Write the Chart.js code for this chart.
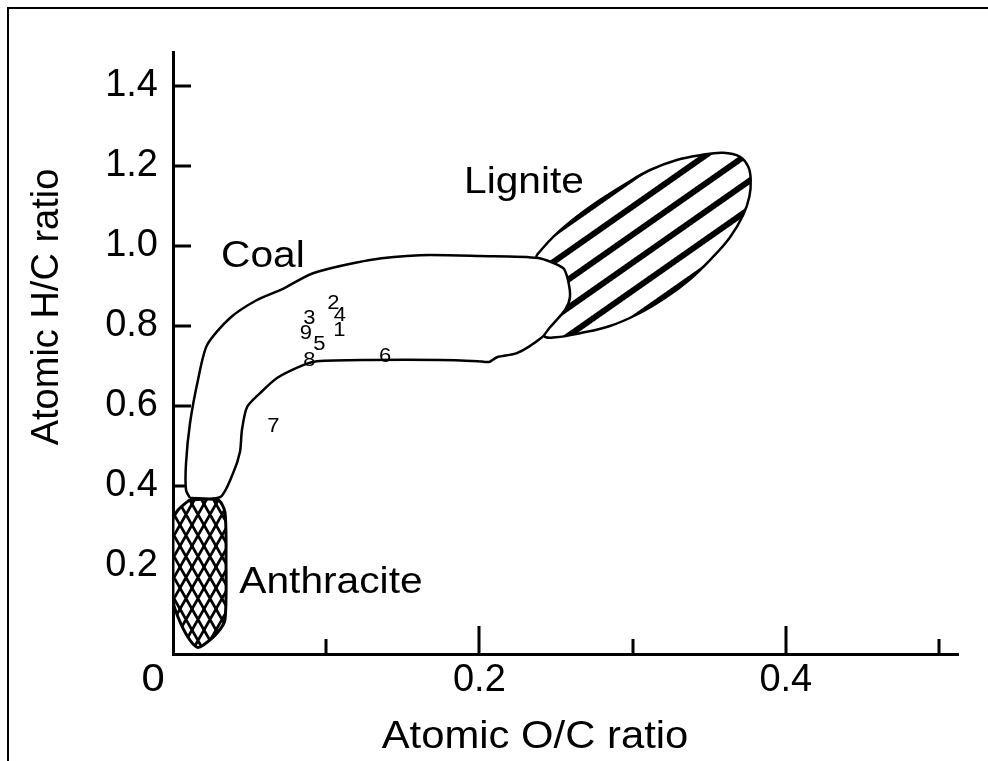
<!DOCTYPE html>
<html>
<head>
<meta charset="utf-8">
<title>Atomic H/C vs O/C ratio</title>
<script src="https://cdn.jsdelivr.net/npm/chart.js@4.4.1/dist/chart.umd.min.js"></script>
<style>
  html, body { margin: 0; padding: 0; background: #fff; }
  #wrap { width: 988px; height: 761px; position: relative; }
</style>
</head>
<body>
<div id="wrap"><canvas id="vk-chart"></canvas></div>
<script>
// tick values
var xTickValues = [0.1, 0.2, 0.3, 0.4, 0.5];
var xLabelValues = [0.2, 0.4];
var yTickValues = [0.2, 0.4, 0.6, 0.8, 1.0, 1.2, 1.4];

// coal band outline (O/C, H/C)
var coalX = [0.0111, 0.0085, 0.0085, 0.0111, 0.0163, 0.0222, 0.0372, 0.0548, 0.0718, 0.0914, 0.1286, 0.1612, 0.2004, 0.2382,
             0.2546, 0.2578, 0.2591, 0.2559, 0.2461, 0.2409, 0.2245, 0.2115, 0.2063, 0.1991, 0.1743,
             0.1286, 0.0940, 0.0849, 0.0679, 0.0568, 0.0483, 0.0450, 0.0437, 0.0392, 0.0307, 0.0111];
var coalY = [0.369, 0.389, 0.456, 0.556, 0.664, 0.751, 0.819, 0.864, 0.892, 0.931, 0.964, 0.976, 0.974, 0.969,
             0.944, 0.914, 0.871, 0.839, 0.796, 0.771, 0.731, 0.721, 0.709, 0.711, 0.714,
             0.714, 0.711, 0.701, 0.669, 0.631, 0.596, 0.539, 0.484, 0.431, 0.371, 0.369];

// lignite field outline
var ligniteX = [0.2374, 0.2482, 0.2635, 0.2787, 0.2961, 0.3114, 0.3288, 0.3440, 0.3592, 0.3701, 0.3755, 0.3771,
                0.3762, 0.3721, 0.3636, 0.3518, 0.3375, 0.3211, 0.3035, 0.2852, 0.2657, 0.2500, 0.2417,
                0.2343, 0.2374];
var ligniteY = [0.976, 1.022, 1.072, 1.114, 1.156, 1.189, 1.214, 1.226, 1.232, 1.222, 1.197, 1.164,
                1.122, 1.076, 1.021, 0.969, 0.916, 0.869, 0.829, 0.799, 0.781, 0.771, 0.776,
                0.864, 0.976];

// anthracite field outline
var anthraciteX = [0.0091, 0.0111, 0.0294, 0.0339, 0.0346, 0.0339, 0.0287, 0.0196, 0.0157, 0.0098, 0.0033, 0.0000, 0.0000, 0.0033, 0.0091];
var anthraciteY = [0.359, 0.364, 0.364, 0.334, 0.214, 0.064, 0.031, 0.001, -0.004, 0.021, 0.071, 0.114, 0.314, 0.339, 0.359];

// numbered samples
var sampleIds = ['1', '2', '3', '4', '5', '6', '7', '8', '9'];
var sampleOC = [0.1086, 0.1046, 0.0890, 0.1090, 0.0955, 0.1384, 0.0655, 0.0890, 0.0868];
var sampleHC = [0.789, 0.855, 0.818, 0.826, 0.753, 0.724, 0.547, 0.714, 0.781];

// field names
var fieldNames = ['Coal', 'Lignite', 'Anthracite'];
var fieldOC = [0.0587, 0.2291, 0.1031];
var fieldHC = [0.971, 1.156, 0.156];

var FONT = '"Liberation Sans", Arial, Helvetica, sans-serif';
var WIDEN = 1.1;  // lettering is drawn slightly wide

function toPoints(xs, ys) {
    var pts = [];
    for (var i = 0; i < xs.length; i++) {
        pts.push({ x: xs[i], y: ys[i] });
    }
    return pts;
}

// diagonal stripes for lignite
function stripePattern() {
    var c = document.createElement('canvas');
    c.width = 23; c.height = 23;
    var g = c.getContext('2d');
    g.fillStyle = '#fff';
    g.fillRect(0, 0, 23, 23);
    g.fillStyle = '#000';
    g.fillRect(0, 0, 23, 6);
    var p = g.createPattern(c, 'repeat');
    p.setTransform(new DOMMatrix().rotateSelf(-35));
    return p;
}

// diamond cross-hatch for anthracite
function crossPattern() {
    var w = 12, h = 21;
    var c = document.createElement('canvas');
    c.width = w; c.height = h;
    var g = c.getContext('2d');
    g.fillStyle = '#fff';
    g.fillRect(0, 0, w, h);
    g.strokeStyle = '#000';
    g.lineWidth = 2.8;
    for (var dx = -w; dx <= w; dx += w) {
        for (var dy = -h; dy <= h; dy += h) {
            g.beginPath();
            g.moveTo(dx, dy); g.lineTo(dx + w, dy + h);
            g.moveTo(dx, dy + h); g.lineTo(dx + w, dy);
            g.stroke();
        }
    }
    return g.createPattern(c, 'repeat');
}

var framePlugin = {
    id: 'frame',
    beforeDraw: function (chart) {
        var ctx = chart.ctx;
        ctx.save();
        ctx.fillStyle = '#fff';
        ctx.fillRect(0, 0, chart.width, chart.height);
        ctx.fillStyle = '#000';
        ctx.fillRect(7, 7, chart.width - 7, 2);
        ctx.fillRect(7, 7, 2, chart.height - 7);
        ctx.restore();
    }
};

// tick marks point inward from both axes
var tickPlugin = {
    id: 'innerTicks',
    beforeDatasetsDraw: function (chart) {
        var ctx = chart.ctx, a = chart.chartArea;
        var xs = chart.scales.x, ys = chart.scales.y;
        ctx.save();
        ctx.strokeStyle = '#000';
        ctx.lineWidth = 3;
        ctx.beginPath();
        yTickValues.forEach(function (v) {
            var py = Math.round(ys.getPixelForValue(v));
            ctx.moveTo(a.left, py);
            ctx.lineTo(a.left + 18, py);
        });
        xTickValues.forEach(function (v) {
            var px = Math.round(xs.getPixelForValue(v));
            var len = xLabelValues.indexOf(v) >= 0 ? 28 : 15;
            ctx.moveTo(px, a.bottom);
            ctx.lineTo(px, a.bottom - len);
        });
        ctx.stroke();
        ctx.restore();
    }
};

function wideText(ctx, text, x, y) {
    ctx.save();
    ctx.translate(x, y);
    ctx.scale(WIDEN, 1);
    ctx.fillText(text, 0, 0);
    ctx.restore();
}

var textPlugin = {
    id: 'texts',
    afterDraw: function (chart) {
        var ctx = chart.ctx, a = chart.chartArea;
        var xs = chart.scales.x, ys = chart.scales.y;
        ctx.save();
        ctx.fillStyle = '#000';
        ctx.textAlign = 'center';
        ctx.textBaseline = 'middle';

        // sample numbers
        var meta = chart.getDatasetMeta(3);
        ctx.font = '20px ' + FONT;
        meta.data.forEach(function (pt, i) {
            wideText(ctx, sampleIds[i], pt.x, pt.y);
        });

        // field names
        ctx.font = '37px ' + FONT;
        fieldNames.forEach(function (name, i) {
            wideText(ctx, name, xs.getPixelForValue(fieldOC[i]), ys.getPixelForValue(fieldHC[i]));
        });

        // origin and axis titles
        ctx.font = '38px ' + FONT;
        wideText(ctx, '0', a.left - 20, a.bottom + 27);
        wideText(ctx, 'Atomic O/C ratio', 535, 738);
        ctx.translate(48, 307);
        ctx.rotate(-Math.PI / 2);
        ctx.fillText('Atomic H/C ratio', 0, 0);
        ctx.restore();
    }
};

var tickFont = { family: FONT, size: 38 };

new Chart(document.getElementById('vk-chart'), {
    type: 'line',
    data: {
        datasets: [
            {
                label: 'Coal',
                data: toPoints(coalX, coalY),
                borderColor: '#000',
                borderWidth: 2.5,
                backgroundColor: '#fff',
                fill: 'shape',
                tension: 0.25,
                pointRadius: 0,
                borderJoinStyle: 'round',
                order: 1
            },
            {
                label: 'Lignite',
                data: toPoints(ligniteX, ligniteY),
                borderColor: '#000',
                borderWidth: 2.5,
                backgroundColor: stripePattern(),
                fill: 'shape',
                tension: 0.4,
                pointRadius: 0,
                order: 2
            },
            {
                label: 'Anthracite',
                data: toPoints(anthraciteX, anthraciteY),
                borderColor: '#000',
                borderWidth: 3,
                backgroundColor: crossPattern(),
                fill: 'shape',
                tension: 0.25,
                pointRadius: 0,
                borderJoinStyle: 'round',
                order: 3
            },
            {
                label: 'Samples',
                data: toPoints(sampleOC, sampleHC),
                showLine: false,
                pointRadius: 0,
                order: 0
            }
        ]
    },
    options: {
        responsive: true,
        maintainAspectRatio: false,
        animation: false,
        events: [],
        layout: { padding: { top: 52, right: 30, left: 0, bottom: 0 } },
        plugins: {
            legend: { display: false },
            tooltip: { enabled: false }
        },
        scales: {
            x: {
                type: 'linear',
                min: 0,
                max: 0.5124,
                grid: { display: false, drawTicks: false },
                border: { display: true, color: '#000', width: 3 },
                afterBuildTicks: function (scale) {
                    scale.ticks = xLabelValues.map(function (v) { return { value: v }; });
                },
                afterFit: function (scale) { scale.height = 107; },
                ticks: {
                    color: '#000',
                    font: tickFont,
                    padding: 4,
                    maxRotation: 0,
                    autoSkip: false,
                    callback: function (value) { return Number(value).toFixed(1); }
                }
            },
            y: {
                type: 'linear',
                min: -0.021,
                max: 1.484,
                grid: { display: false, drawTicks: false },
                border: { display: true, color: '#000', width: 3 },
                afterBuildTicks: function (scale) {
                    scale.ticks = yTickValues.map(function (v) { return { value: v }; });
                },
                afterFit: function (scale) { scale.width = 173; },
                ticks: {
                    color: '#000',
                    font: tickFont,
                    padding: 15,
                    autoSkip: false,
                    callback: function (value) { return Number(value).toFixed(1); }
                }
            }
        }
    },
    plugins: [framePlugin, tickPlugin, textPlugin]
});
</script>
</body>
</html>
